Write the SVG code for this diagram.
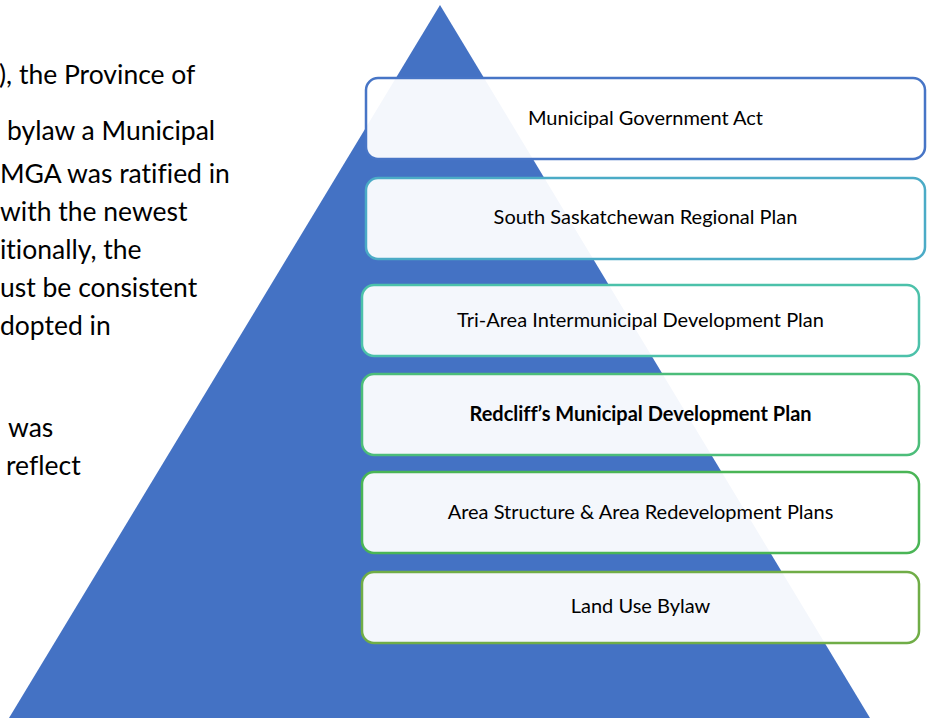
<svg xmlns="http://www.w3.org/2000/svg" width="932" height="719" viewBox="0 0 932 719">
<style>
.body{font-family:Lato,"Open Sans","Liberation Sans",sans-serif;font-size:26.5px;fill:#000;font-variant-ligatures:none}
.lbl{font-family:Lato,"Open Sans","Liberation Sans",sans-serif;font-size:20px;fill:#000;text-anchor:middle;font-variant-ligatures:none}
.bold{font-weight:bold}
.box{fill:#fff;fill-opacity:0.94;stroke-width:2.5}
</style>
<rect width="932" height="719" fill="#fff"/>
<g id="body-text">
<text class="body" x="-1" y="84">), the Province of</text>
<text class="body" x="7" y="140">bylaw a Municipal</text>
<text class="body" x="0" y="183">MGA was ratified in</text>
<text class="body" x="0" y="221">with the newest</text>
<text class="body" x="0" y="259">itionally, the</text>
<text class="body" x="0" y="297">ust be consistent</text>
<text class="body" x="0" y="335">dopted in</text>
<text class="body" x="8" y="437">was</text>
<text class="body" x="6" y="475">reflect</text>
</g>
<g id="pyramid">
<polygon points="440,5 9,718 870,718" fill="#4472C4"/>
</g>
<g id="connectors"></g>
<g id="n1">
<rect class="box" x="366" y="78" width="559" height="81" rx="12" stroke="#4775C6"/>
<text class="lbl" x="645.5" y="125">Municipal Government Act</text>
</g>
<g id="n2">
<rect class="box" x="366" y="178" width="559" height="81" rx="12" stroke="#4BABC6"/>
<text class="lbl" x="645.5" y="224">South Saskatchewan Regional Plan</text>
</g>
<g id="n3">
<rect class="box" x="362" y="285" width="557" height="71" rx="12" stroke="#4CC1AA"/>
<text class="lbl" x="640.5" y="327">Tri-Area Intermunicipal Development Plan</text>
</g>
<g id="n4">
<rect class="box" x="362" y="374" width="557" height="81" rx="12" stroke="#4CBD7A"/>
<text class="lbl bold" x="640.5" y="421">Redcliff’s Municipal Development Plan</text>
</g>
<g id="n5">
<rect class="box" x="362" y="472" width="557" height="81" rx="12" stroke="#4AB556"/>
<text class="lbl" x="640.5" y="519">Area Structure &amp; Area Redevelopment Plans</text>
</g>
<g id="n6">
<rect class="box" x="362" y="572" width="557" height="71" rx="12" stroke="#70AD47"/>
<text class="lbl" x="640.5" y="613">Land Use Bylaw</text>
</g>
</svg>
